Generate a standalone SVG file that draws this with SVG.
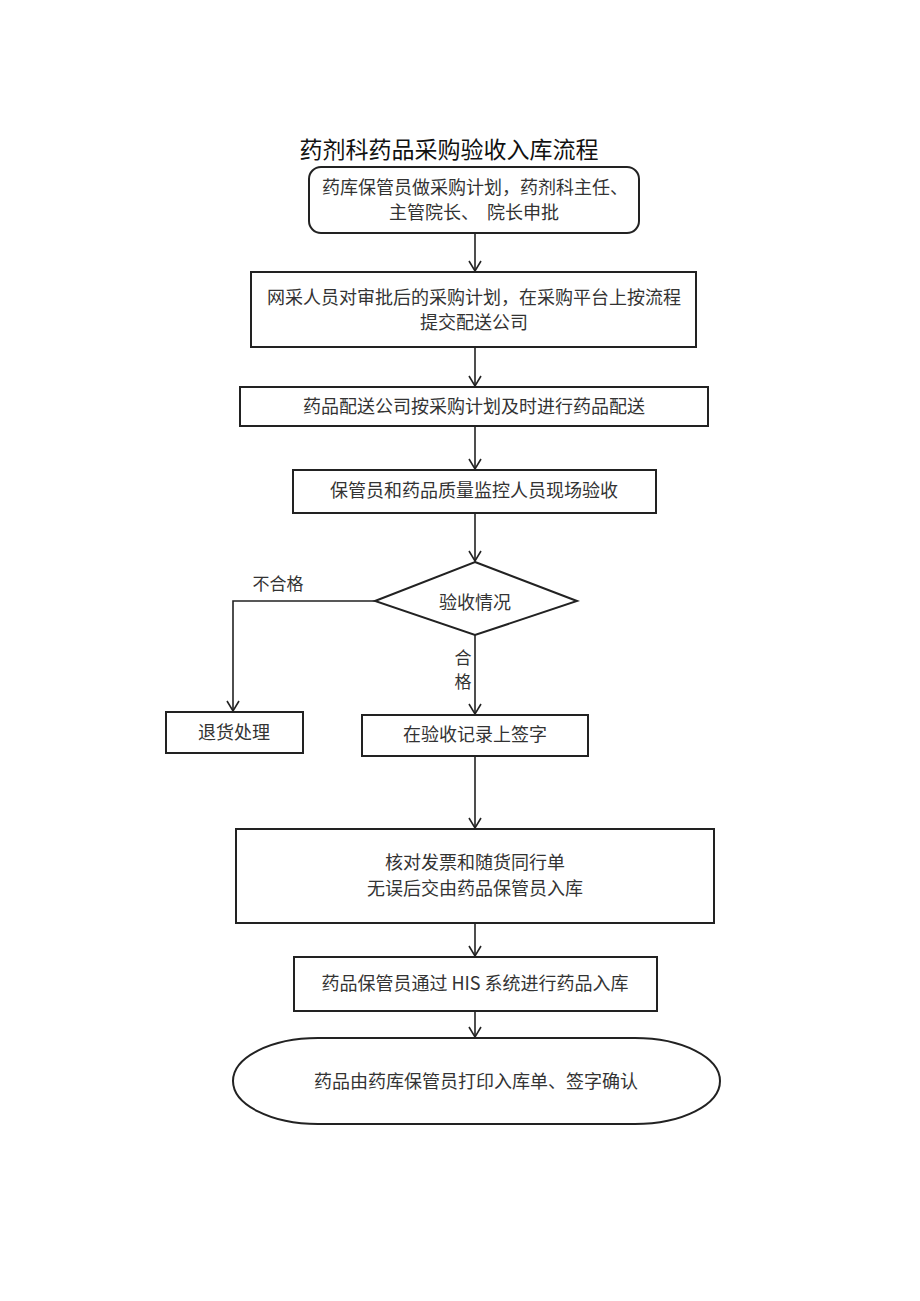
<svg xmlns="http://www.w3.org/2000/svg" width="920" height="1301" viewBox="0 0 920 1301">
<defs>
<marker id="arr" markerWidth="14" markerHeight="14" refX="11" refY="7" orient="auto" markerUnits="userSpaceOnUse">
<polyline points="1,1 11,7 1,13" fill="none" stroke="#222" stroke-width="1.6"/>
</marker>
<style>
.box{fill:#fff;stroke:#222;stroke-width:2}
.t{font-family:"Noto Sans CJK SC","Noto Sans",sans-serif;font-size:18px;fill:#333;text-anchor:middle}
.title{font-family:"Noto Sans CJK SC","Noto Sans",sans-serif;font-size:23px;fill:#111;text-anchor:middle}
.lbl{font-family:"Noto Sans CJK SC","Noto Sans",sans-serif;font-size:17px;fill:#333;text-anchor:middle}
.c{fill:none;stroke:#222;stroke-width:1.6}
</style>
</defs>
<rect width="920" height="1301" fill="#fff"/>
<text class="title" x="449" y="158">药剂科药品采购验收入库流程</text>

<g id="n1">
<rect class="box" x="309" y="167" width="330" height="66" rx="12"/>
<text class="t" x="475" y="194">药库保管员做采购计划，药剂科主任、</text>
<text class="t" x="474" y="219" xml:space="preserve">主管院长、  院长申批</text>
</g>
<g id="n2">
<rect class="box" x="251" y="272" width="445" height="75"/>
<text class="t" x="474" y="304">网采人员对审批后的采购计划，在采购平台上按流程</text>
<text class="t" x="474" y="329">提交配送公司</text>
</g>
<g id="n3">
<rect class="box" x="240" y="387" width="468" height="39"/>
<text class="t" x="474" y="413">药品配送公司按采购计划及时进行药品配送</text>
</g>
<g id="n4">
<rect class="box" x="293" y="470" width="363" height="43"/>
<text class="t" x="474" y="497">保管员和药品质量监控人员现场验收</text>
</g>
<g id="n5">
<polygon class="box" points="475,562 577,601 475,635 375,601"/>
<text class="t" x="475" y="609">验收情况</text>
</g>
<g id="n6">
<rect class="box" x="166" y="712" width="137" height="41"/>
<text class="t" x="234" y="739">退货处理</text>
</g>
<g id="n7">
<rect class="box" x="362" y="715" width="226" height="41"/>
<text class="t" x="475" y="741">在验收记录上签字</text>
</g>
<g id="n8">
<rect class="box" x="236" y="829" width="478" height="94"/>
<text class="t" x="475" y="869">核对发票和随货同行单</text>
<text class="t" x="475" y="895">无误后交由药品保管员入库</text>
</g>
<g id="n9">
<rect class="box" x="294" y="957" width="363" height="54"/>
<text class="t" x="475" y="990">药品保管员通过 HIS 系统进行药品入库</text>
</g>
<g id="n10">
<rect class="box" x="233" y="1038" width="487" height="86" rx="85" ry="43"/>
<text class="t" x="476" y="1088">药品由药库保管员打印入库单、签字确认</text>
</g>

<g id="connectors">
<line class="c" x1="475" y1="233" x2="475" y2="271" marker-end="url(#arr)"/>
<line class="c" x1="475" y1="347" x2="475" y2="386" marker-end="url(#arr)"/>
<line class="c" x1="475" y1="426" x2="475" y2="469" marker-end="url(#arr)"/>
<line class="c" x1="475" y1="513" x2="475" y2="561" marker-end="url(#arr)"/>
<polyline class="c" points="375,601 233,601 233,711" marker-end="url(#arr)"/>
<line class="c" x1="475" y1="635" x2="475" y2="714" marker-end="url(#arr)"/>
<line class="c" x1="475" y1="756" x2="475" y2="828" marker-end="url(#arr)"/>
<line class="c" x1="475" y1="923" x2="475" y2="956" marker-end="url(#arr)"/>
<line class="c" x1="475" y1="1011" x2="475" y2="1037" marker-end="url(#arr)"/>
<text class="lbl" x="278" y="590">不合格</text>
<text class="lbl" x="463" y="664">合</text>
<text class="lbl" x="463" y="688">格</text>
</g>
</svg>
